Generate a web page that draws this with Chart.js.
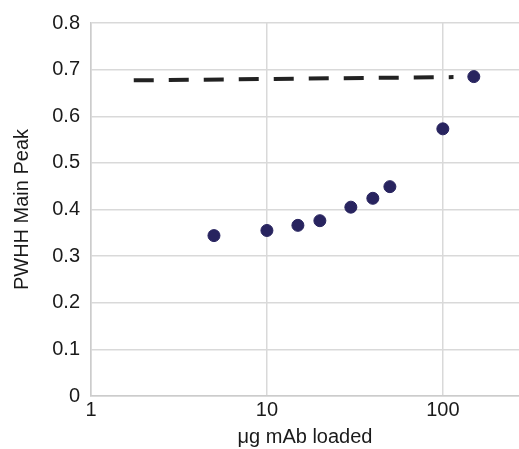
<!DOCTYPE html>
<html><head><meta charset="utf-8">
<script src="https://cdn.jsdelivr.net/npm/chart.js@4"></script>
<style>html,body{margin:0;padding:0;background:#fff}#wrap{width:519px;height:449px}</style>
</head><body><div id="wrap"><canvas id="c" width="519" height="449"></canvas></div>
<script>
const doses = [5, 10, 15, 20, 30, 40, 50, 100, 150];
const pwhh = [0.344, 0.355, 0.366, 0.376, 0.405, 0.424, 0.449, 0.573, 0.685];
const trendX = [1.75, 115];
const trendY = [0.677, 0.684];
const xTicks = [1, 10, 100];
const yTicks = [0, 0.1, 0.2, 0.3, 0.4, 0.5, 0.6, 0.7, 0.8];
const xMin = 1, xMax = 271;

const font = {family: '"Liberation Sans", Arial, Helvetica, sans-serif', size: 20};
new Chart(document.getElementById('c'), {
  type: 'scatter',
  data: {
    datasets: [
      {
        type: 'line',
        data: trendX.map((x, i) => ({x, y: trendY[i]})),
        borderColor: '#222222', borderWidth: 4, borderDash: [20, 15],
        pointRadius: 0, fill: false
      },
      {
        data: doses.map((x, i) => ({x, y: pwhh[i]})),
        backgroundColor: '#28245f', borderColor: '#28245f',
        pointRadius: 6, pointHoverRadius: 6, borderWidth: 1
      }
    ]
  },
  options: {
    responsive: false, animation: false,
    plugins: {legend: {display: false}, tooltip: {enabled: false}},
    layout: {autoPadding: false, padding: {top: 22, right: 0, left: 0, bottom: 0}},
    scales: {
      x: {
        type: 'logarithmic', min: xMin, max: xMax,
        afterBuildTicks: s => { s.ticks = xTicks.map(v => ({value: v})); },
        afterFit: s => { s.height = 53; s.paddingRight = 0; s.paddingLeft = 0; },
        grid: {color: '#d9d9d9', lineWidth: 1.5, drawTicks: false},
        border: {color: '#cccccc', width: 1.5},
        ticks: {color: '#1a1a1a', font, padding: 2, maxRotation: 0,
          callback: v => String(v)},
        title: {display: true, text: 'μg mAb loaded', color: '#1a1a1a', font, padding: {top: 2, bottom: 0}}
      },
      y: {
        min: 0, max: 0.8,
        afterBuildTicks: s => { s.ticks = yTicks.map(v => ({value: v})); },
        afterFit: s => { s.width = 91; },
        grid: {color: '#d9d9d9', lineWidth: 1.5, drawTicks: false},
        border: {color: '#cccccc', width: 1.5},
        ticks: {color: '#1a1a1a', font, padding: 11, callback: v => String(Math.round(v * 10) / 10)},
        title: {display: true, text: 'PWHH Main Peak', color: '#1a1a1a', font, padding: {top: 10, bottom: 0}}
      }
    }
  }
});
</script></body></html>
